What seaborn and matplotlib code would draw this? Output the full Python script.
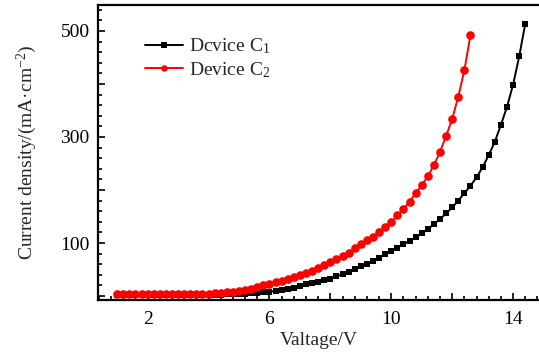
import matplotlib
matplotlib.use("Agg")
import matplotlib.pyplot as plt
import seaborn as sns
import pandas as pd
from matplotlib.ticker import MultipleLocator

# ---- data ----
volt_c1 = [round(1.0 + 0.2 * i, 1) for i in range(68)]  # 1.0 ... 14.4 V sample grid
cur_c1 = [2, 2, 2, 2, 2, 2, 2, 2, 2, 2,
          2, 2, 2, 2, 2, 2, 2, 2, 3, 3,
          4, 4, 5, 6, 7, 8, 10, 12, 14, 16,
          19, 22, 24, 27, 30, 33, 37, 41, 46, 51,
          56, 61, 66, 72, 79, 85, 91, 98, 104, 111,
          118, 126, 136, 145, 156, 167, 180, 194, 208, 224,
          243, 266, 291, 323, 357, 399, 452, 514]

volt_c2 = [round(1.0 + 0.2 * i, 1) for i in range(59)]  # 1.0 ... 12.6 V sample grid
cur_c2 = [3, 3, 3, 3, 3, 3, 3, 3, 3, 3,
          3, 3, 3, 3, 3, 4, 5, 6, 7, 8,
          10, 12, 14, 17, 20, 23, 26, 29, 33, 36,
          40, 44, 48, 53, 58, 64, 69, 75, 82, 90,
          98, 105, 112, 120, 130, 140, 152, 164, 178, 194,
          209, 226, 247, 272, 302, 334, 376, 426, 492]

series_names = ["Dcvice C$_1$", "Device C$_2$"]
series_colors = ["#000000", "#ff0000"]

x_major = [2, 4, 6, 8, 10, 12, 14]
x_labels = ["2", "", "6", "", "10", "", "14"]
y_major = [0, 100, 200, 300, 400, 500]
y_labels = ["", "100", "", "300", "", "500"]

# ---- style ----
sns.set_style("ticks")
plt.rcParams["font.family"] = ["Liberation Serif", "DejaVu Serif"]
plt.rcParams["mathtext.fontset"] = "custom"
plt.rcParams["mathtext.rm"] = "Liberation Serif"
plt.rcParams["mathtext.it"] = "Liberation Serif:italic"
plt.rcParams["mathtext.default"] = "regular"

fig = plt.figure(figsize=(5.39, 3.58), dpi=100)
ax = fig.add_axes([98 / 539, 1 - 300 / 358, 1 - 98 / 539, (300 - 5) / 358])

df1 = pd.DataFrame({"V": volt_c1, "J": cur_c1})
df2 = pd.DataFrame({"V": volt_c2, "J": cur_c2})

sns.lineplot(data=df1, x="V", y="J", ax=ax, color=series_colors[0], marker="s",
             markersize=5.0, markeredgewidth=0, linewidth=1.4, label=series_names[0])
sns.lineplot(data=df2, x="V", y="J", ax=ax, color=series_colors[1], marker="o",
             markersize=6.2, markeredgewidth=0, linewidth=1.4, label=series_names[1])

ax.set_xlim(0.37, 14.85)
ax.set_ylim(-7.5, 549)

ax.set_xticks(x_major)
ax.set_xticklabels(x_labels)
ax.set_yticks(y_major)
ax.set_yticklabels(y_labels)
ax.xaxis.set_minor_locator(MultipleLocator(0.4))
ax.yaxis.set_minor_locator(MultipleLocator(20))

ax.tick_params(which="both", direction="in", top=False, right=False, labelsize=14,
               width=1.2, colors="black")
ax.tick_params(which="major", length=5)
ax.tick_params(which="minor", length=3)
ax.tick_params(axis="x", pad=8)
ax.tick_params(axis="y", pad=6)

for side in ["left", "bottom", "top"]:
    ax.spines[side].set_visible(True)
    ax.spines[side].set_linewidth(1.6)
    ax.spines[side].set_color("black")
ax.spines["right"].set_visible(False)

ax.set_xlabel("Valtage/V", fontsize=14, labelpad=3)
ax.set_ylabel("Current density/(mA·cm$^{-2}$)", fontsize=14, labelpad=15)

leg = ax.legend(loc="upper left", bbox_to_anchor=(0.088, 0.92), frameon=False,
                fontsize=14, handlelength=2.0, handletextpad=0.3,
                labelspacing=0.2, markerscale=0.75, borderaxespad=0)

fig.savefig("out.png", dpi=100)
